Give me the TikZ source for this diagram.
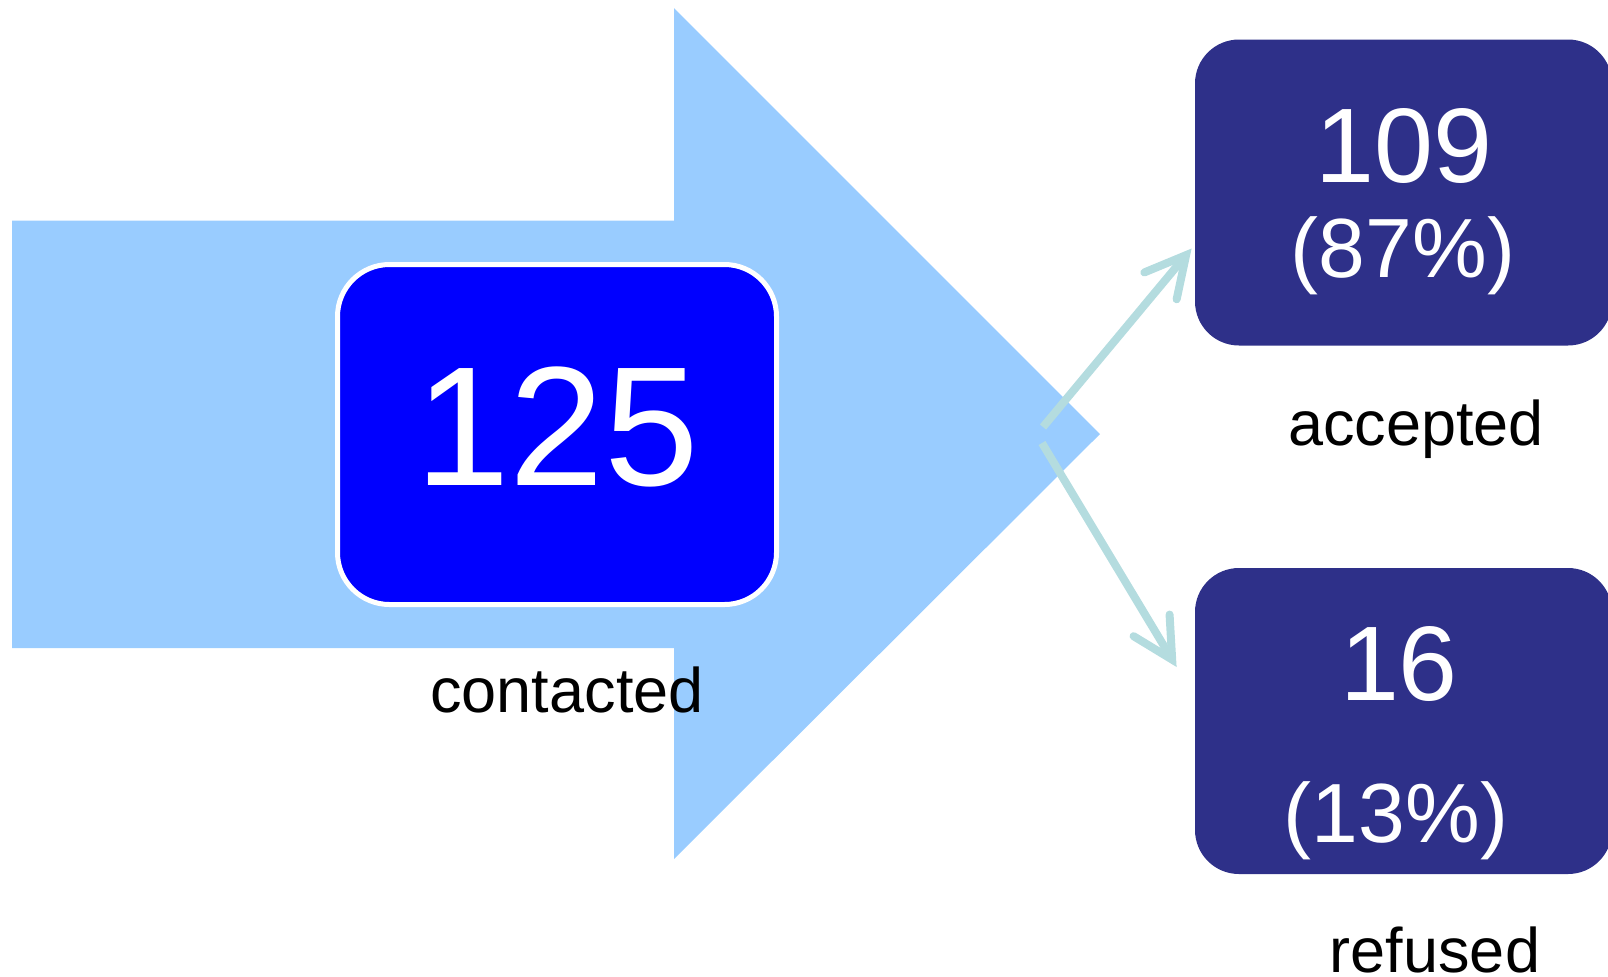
\documentclass[tikz,border=0pt]{standalone}
\usepackage{fontspec}
\setmainfont{Liberation Sans}
\definecolor{mylightblue}{HTML}{99CCFF}
\definecolor{myblue}{HTML}{0000FF}
\definecolor{mynavy}{HTML}{2E3089}
\definecolor{myteal}{HTML}{B4DCDF}
\usetikzlibrary{arrows.meta, calc, positioning}
\tikzset{
	totalnode/.style={
			rectangle,
			rounded corners=26pt,
			draw=white,
			line width=2.5pt,
			fill=myblue,
			text=white,
			minimum width=219.5pt,
			minimum height=170pt,
			text depth=8pt,
			font=\fontsize{85}{85}\selectfont
		},
	outcomenode/.style={
			rectangle,
			rounded corners=22pt,
			fill=mynavy,
			minimum width=208.5pt,
			minimum height=153pt
		},
	numbernode/.style={
			anchor=base,
			inner sep=0pt,
			text=white,
			font=\fontsize{53}{53}\selectfont
		},
	percentnode/.style={
			numbernode,
			font=\fontsize{42}{42}\selectfont
		},
	captionnode/.style={
			anchor=base,
			inner sep=0pt,
			text=black,
			font=\fontsize{31.5}{31.5}\selectfont
		},
	splitarrow/.style={
			draw=myteal,
			line width=4pt,
			-{Straight Barb[length=20pt, width=21pt, line cap=round, line join=miter]}
		}
}

\begin{document}
\begin{tikzpicture}[x=0.5pt, y=-0.5pt]
\useasboundingbox (0,0) rectangle (1608,976);
\clip (0,0) rectangle (1608,976);

% big arrow behind everything
\fill[mylightblue] (12,220.5) -- (674,220.5) -- (674,8) -- (1100,434)
  -- (674,859) -- (674,648) -- (12,648) -- cycle;

\node[totalnode] (total) at (557,434.5) {125};
\node[captionnode] (contacted) at (567,712) {contacted};

\node[outcomenode] (acc) at (1403.5,192.5) {};
\node[numbernode] (accnum) at (1404,182) {109};
\node[percentnode] (accpct) at (1403,277) {(87\%)};
\node[captionnode] (acclabel) at (1416,445) {accepted};

\node[outcomenode] (ref) at (1403.5,721) {};
\node[numbernode] (refnum) at (1399,700) {16};
\node[percentnode] (refpct) at (1396,842) {(13\%)};
\node[captionnode] (reflabel) at (1435,972) {refused};

\coordinate (forkup) at (1043,427);
\coordinate (forkdown) at (1042,443);
\coordinate (accin) at ($(acc.west)+(-3,56)$);
\coordinate (refin) at ($(ref.west)+(-18,-54)$);

\draw[splitarrow] (forkup) -- (accin);
\draw[splitarrow] (forkdown) -- (refin);

\end{tikzpicture}
\end{document}
